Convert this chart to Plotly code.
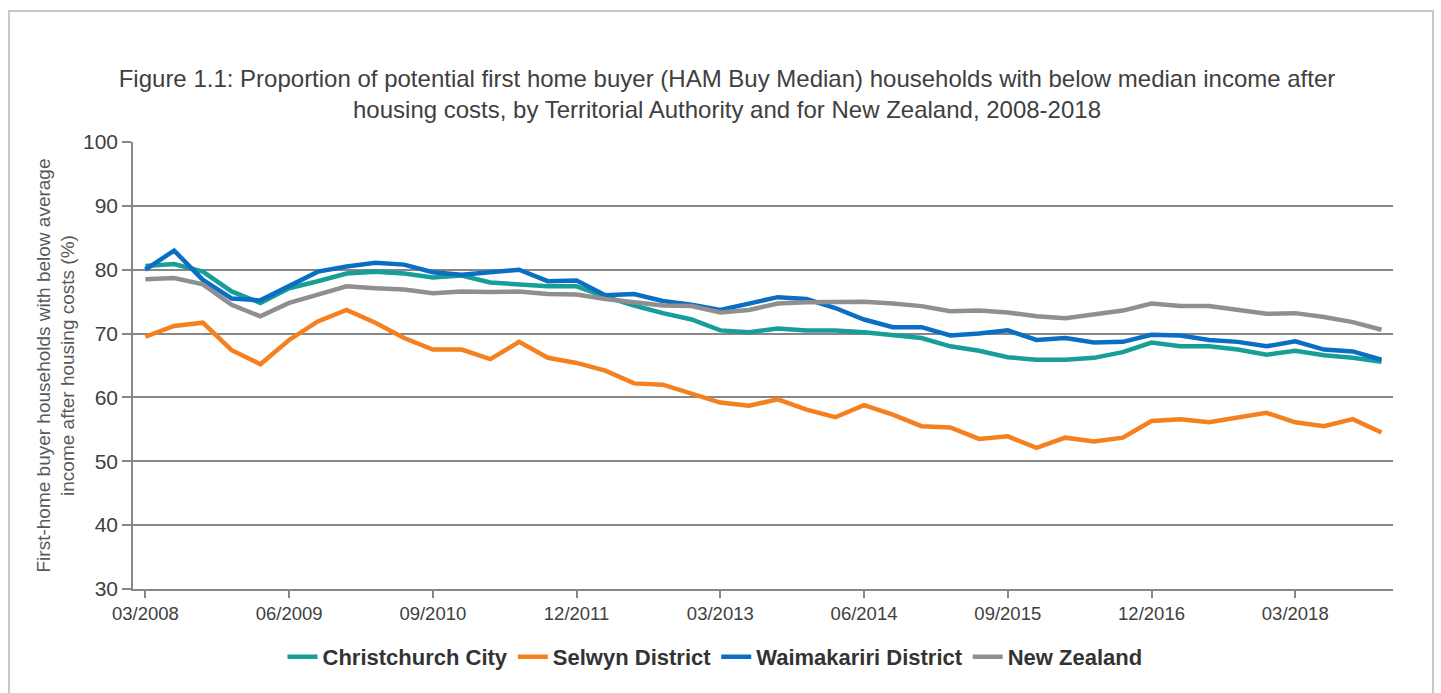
import plotly.graph_objects as go

quarters = [
    "03/2008", "06/2008", "09/2008", "12/2008",
    "03/2009", "06/2009", "09/2009", "12/2009",
    "03/2010", "06/2010", "09/2010", "12/2010",
    "03/2011", "06/2011", "09/2011", "12/2011",
    "03/2012", "06/2012", "09/2012", "12/2012",
    "03/2013", "06/2013", "09/2013", "12/2013",
    "03/2014", "06/2014", "09/2014", "12/2014",
    "03/2015", "06/2015", "09/2015", "12/2015",
    "03/2016", "06/2016", "09/2016", "12/2016",
    "03/2017", "06/2017", "09/2017", "12/2017",
    "03/2018", "06/2018", "09/2018", "12/2018",
]

tick_labels = ["03/2008", "06/2009", "09/2010", "12/2011", "03/2013",
               "06/2014", "09/2015", "12/2016", "03/2018"]

christchurch = [80.6, 80.9, 79.7, 76.6, 74.8, 77.1, 78.2, 79.4, 79.7, 79.4,
                78.8, 79.1, 78.0, 77.7, 77.4, 77.4, 75.8, 74.4, 73.2, 72.2,
                70.5, 70.2, 70.8, 70.5, 70.5, 70.2, 69.7, 69.3, 68.0, 67.3,
                66.3, 65.9, 65.9, 66.2, 67.1, 68.6, 68.0, 68.0, 67.5, 66.7,
                67.3, 66.6, 66.2, 65.6]

selwyn = [69.5, 71.2, 71.7, 67.4, 65.2, 69.0, 71.9, 73.7, 71.7, 69.3,
          67.5, 67.5, 66.0, 68.7, 66.2, 65.4, 64.2, 62.2, 62.0, 60.6,
          59.2, 58.7, 59.7, 58.1, 56.9, 58.8, 57.3, 55.5, 55.3, 53.5,
          53.9, 52.1, 53.7, 53.1, 53.7, 56.3, 56.6, 56.1, 56.9, 57.6,
          56.1, 55.5, 56.6, 54.5]

waimakariri = [80.0, 83.0, 78.4, 75.5, 75.2, 77.4, 79.7, 80.5, 81.1, 80.8,
               79.6, 79.2, 79.6, 80.0, 78.2, 78.3, 76.0, 76.2, 75.1, 74.5,
               73.7, 74.7, 75.7, 75.4, 74.0, 72.2, 71.0, 71.0, 69.7, 70.0,
               70.5, 69.0, 69.3, 68.6, 68.7, 69.8, 69.7, 69.0, 68.7, 68.0,
               68.8, 67.5, 67.2, 65.9]

new_zealand = [78.5, 78.7, 77.7, 74.5, 72.7, 74.8, 76.1, 77.4, 77.1, 76.9,
               76.3, 76.6, 76.5, 76.6, 76.2, 76.1, 75.4, 74.9, 74.4, 74.3,
               73.3, 73.7, 74.7, 74.9, 75.0, 75.0, 74.7, 74.3, 73.5, 73.6,
               73.3, 72.7, 72.4, 73.0, 73.6, 74.7, 74.3, 74.3, 73.7, 73.1,
               73.2, 72.6, 71.8, 70.6]

series_names = ["Christchurch City", "Selwyn District", "Waimakariri District", "New Zealand"]
series_values = [christchurch, selwyn, waimakariri, new_zealand]
series_colors = ["#179E99", "#F5801F", "#0A6FC2", "#8F8F8F"]

FONT = "Liberation Sans, Arial, sans-serif"
GRID = "#878787"

fig = go.Figure()
for name, vals, col in zip(series_names, series_values, series_colors):
    fig.add_trace(go.Scatter(
        x=quarters, y=vals, name=name, mode="lines",
        line=dict(color=col, width=4.5),
    ))

fig.update_layout(
    width=1441, height=693, autosize=False,
    paper_bgcolor="white", plot_bgcolor="white",
    margin=dict(l=133, r=48, t=142, b=104),
    font=dict(family=FONT, color="#404040"),
    title=dict(
        text="Figure 1.1: Proportion of potential first home buyer (HAM Buy Median) households with below median income after<br>housing costs, by Territorial Authority and for New Zealand, 2008-2018",
        x=727 / 1441, xref="container", xanchor="center",
        y=1 - 87 / 693, yref="container", yanchor="top",
        font=dict(size=24, family=FONT, color="#404040"),
    ),
    legend=dict(
        orientation="h",
        xref="container", x=715 / 1441, xanchor="center",
        yref="container", y=1 - 657 / 693, yanchor="middle",
        font=dict(size=22, family=FONT, color="#333333", weight="bold"),
        itemwidth=30,
    ),
    showlegend=True,
)

fig.update_xaxes(
    type="category",
    range=[-0.43, 43.4],
    tickmode="array", tickvals=tick_labels, ticktext=tick_labels,
    showgrid=False, showline=True, linecolor=GRID, linewidth=1.5,
    ticks="outside", ticklen=7, tickcolor=GRID, tickwidth=1.5,
    tickfont=dict(size=18.5, family=FONT, color="#404040"),
    zeroline=False, fixedrange=True,
)

fig.update_yaxes(
    range=[30, 100], dtick=10, tick0=30,
    showgrid=True, gridcolor=GRID, gridwidth=1.5,
    showline=True, linecolor=GRID, linewidth=1.5,
    ticks="outside", ticklen=9, tickcolor=GRID, tickwidth=1.5,
    tickfont=dict(size=21, family=FONT, color="#404040"),
    zeroline=False, fixedrange=True,
)

fig.add_annotation(
    text="First-home buyer households with below average<br>income after housing costs (%)",
    xref="paper", yref="paper", x=(55 - 133) / 1260, y=0.5,
    xanchor="center", yanchor="middle", textangle=-90, showarrow=False,
    font=dict(size=19, family=FONT, color="#595959"),
)

fig.add_shape(
    type="rect", xref="paper", yref="paper",
    x0=(9 - 133) / 1260, x1=(1433 - 133) / 1260,
    y0=-(720 - 589) / 447, y1=1 + (142 - 11) / 447,
    line=dict(color="#C8C8C8", width=2), fillcolor="rgba(0,0,0,0)", layer="below",
)

fig.write_html("out.html", config={"displayModeBar": False},
               post_script="document.body.style.margin='0';")
